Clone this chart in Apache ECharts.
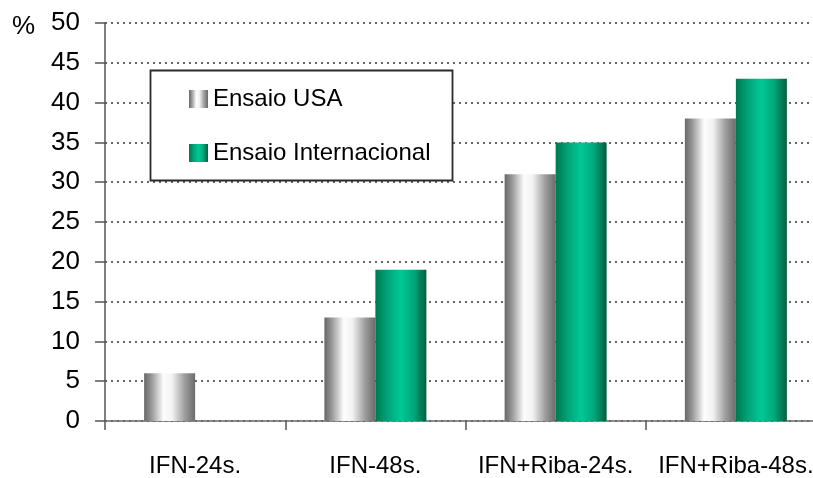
<!DOCTYPE html>
<html>
<head>
<meta charset="utf-8">
<script src="https://cdn.jsdelivr.net/npm/echarts@6/dist/echarts.min.js"></script>
<style>
  html, body { margin: 0; padding: 0; background: #fff; overflow: hidden; width: 813px; height: 478px; }
  /* plot runs a little past the right edge of the page, so the canvas is wider than the view */
  #chart { width: 830px; height: 478px; }
</style>
</head>
<body>
<div id="chart"></div>
<script>
// Response rates (%) by treatment regimen
const categories = ['IFN-24s.', 'IFN-48s.', 'IFN+Riba-24s.', 'IFN+Riba-48s.'];
const usaValues = [6, 13, 31, 38];
const intlValues = [null, 19, 35, 43];
const seriesNames = ['Ensaio USA', 'Ensaio Internacional'];

const font = '"Liberation Sans", Arial, sans-serif';

// Cylinder-like shading across each bar
const silverFill = new echarts.graphic.LinearGradient(0, 0, 1, 0, [
  { offset: 0, color: '#676767' },
  { offset: 0.15, color: '#9a9a9a' },
  { offset: 0.38, color: '#fdfdfd' },
  { offset: 0.55, color: '#f2f2f2' },
  { offset: 0.8, color: '#9c9c9c' },
  { offset: 1, color: '#6a6a6a' }
]);
const greenFill = new echarts.graphic.LinearGradient(0, 0, 1, 0, [
  { offset: 0, color: '#00784f' },
  { offset: 0.25, color: '#00a67a' },
  { offset: 0.5, color: '#00c895' },
  { offset: 0.75, color: '#00a87b' },
  { offset: 1, color: '#005e3f' }
]);

const chart = echarts.init(document.getElementById('chart'), null, { renderer: 'canvas' });
chart.setOption({
  animation: false,
  backgroundColor: '#fff',
  grid: { left: 105, top: 23, right: 4, bottom: 57, containLabel: false },
  graphic: [
    {
      type: 'text', left: 12, top: 14, z: 5,
      style: { text: '%', font: '26px ' + font, fill: '#000' }
    },
    {
      type: 'rect', z: 3,
      shape: { x: 150.5, y: 70.5, width: 302, height: 110 },
      style: { fill: '#fff', stroke: '#2a2a2a', lineWidth: 1.8 }
    }
  ],
  legend: {
    orient: 'vertical',
    left: 150, top: 70, z: 4,
    padding: [17, 20, 15, 39],
    itemWidth: 19, itemHeight: 18,
    itemGap: 30, itemTextGap: 9,
    icon: 'rect',
    data: seriesNames,
    textStyle: { fontFamily: font, fontSize: 24, color: '#000', lineHeight: 24 }
  },
  xAxis: {
    type: 'category',
    data: categories,
    axisLine: { lineStyle: { color: '#6a6a6a', width: 1.5 } },
    axisTick: { show: true, length: 9, interval: 0, alignWithLabel: false, lineStyle: { color: '#555', width: 1.5 } },
    axisLabel: { interval: 0, fontFamily: font, fontSize: 24, color: '#000', margin: 33 },
    splitLine: { show: false }
  },
  yAxis: {
    type: 'value',
    min: 0, max: 50, interval: 5,
    axisLine: { show: true, lineStyle: { color: '#555', width: 1.5 } },
    axisTick: { show: true, length: 10, inside: false, lineStyle: { color: '#555', width: 1.5 } },
    axisLabel: { fontFamily: font, fontSize: 26, color: '#000', margin: 25 },
    splitLine: { show: true, lineStyle: { color: '#333', width: 1.5, type: [2, 4] } }
  },
  series: [
    {
      name: seriesNames[0], type: 'bar', data: usaValues,
      barWidth: 51, barGap: '0%',
      itemStyle: { color: silverFill }
    },
    {
      name: seriesNames[1], type: 'bar', data: intlValues,
      barWidth: 51, barGap: '0%',
      itemStyle: { color: greenFill }
    }
  ]
});
</script>
</body>
</html>
